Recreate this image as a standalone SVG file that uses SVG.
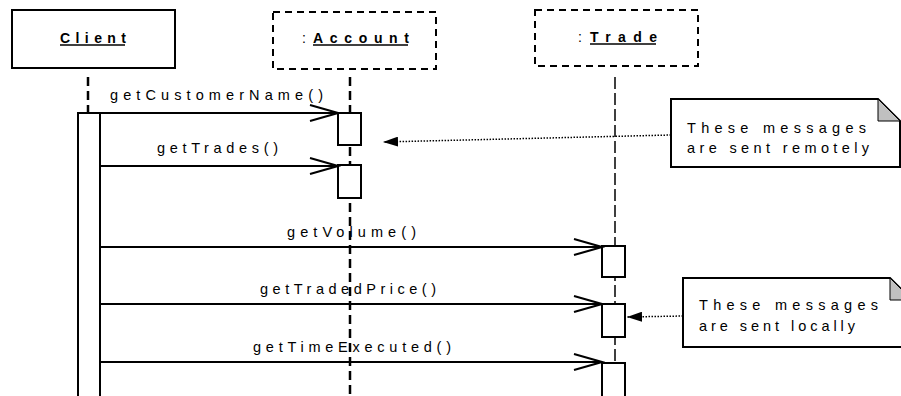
<svg xmlns="http://www.w3.org/2000/svg" width="901" height="396" viewBox="0 0 901 396">
  <style>
    .obj { fill: #fff; stroke: #000; stroke-width: 2; }
    .objdash { fill: #fff; stroke: #000; stroke-width: 2; stroke-dasharray: 7 5; }
    .head { font-family: "Liberation Sans", Arial, sans-serif; font-size: 14px; font-weight: bold; fill: #000; }
    .colon { font-family: "Liberation Sans", Arial, sans-serif; font-size: 14px; fill: #000; }
    .ul { stroke: #000; stroke-width: 1.5; }
    .life { fill: none; stroke: #000; stroke-width: 2.5; stroke-dasharray: 9 5; }
    .life-thin { fill: none; stroke: #000; stroke-width: 1.5; stroke-dasharray: 12 4; }
    .act { fill: #fff; stroke: #000; stroke-width: 2; }
    .msg { fill: none; stroke: #000; stroke-width: 2; marker-end: url(#open); }
    .lbl { font-family: "Liberation Sans", Arial, sans-serif; font-size: 14.5px; fill: #000; }
    .note { fill: #fff; stroke: #000; stroke-width: 2; }
    .fold { fill: #c0c0c0; stroke: #000; stroke-width: 1; }
    .ntxt { font-family: "Liberation Sans", Arial, sans-serif; font-size: 14.5px; fill: #000; }
    .dot { fill: none; stroke: #000; stroke-width: 1.5; stroke-dasharray: 1.5 1.5; marker-end: url(#tri); }
  </style>
  <defs>
    <marker id="open" markerUnits="userSpaceOnUse" markerWidth="32" markerHeight="20" refX="29" refY="10" orient="auto">
      <path d="M1,2 L29,10 L1,18" fill="none" stroke="#000" stroke-width="2"/>
    </marker>
    <marker id="tri" markerUnits="userSpaceOnUse" markerWidth="16" markerHeight="10" refX="15" refY="5" orient="auto">
      <path d="M0,0 L15,5 L0,10 Z" fill="#000"/>
    </marker>
  </defs>

  <!-- lifelines -->
  <g id="lifelines">
    <line class="life" x1="88" y1="77" x2="88" y2="113"/>
    <line class="life" x1="350" y1="77" x2="350" y2="396"/>
    <line class="life-thin" x1="615" y1="77" x2="615" y2="396"/>
  </g>

  <!-- object heads -->
  <g id="client">
    <rect class="obj" x="12" y="10" width="163" height="58"/>
    <text class="head" x="60" y="43" textLength="66" lengthAdjust="spacing">Client</text>
    <line class="ul" x1="60" y1="45" x2="125" y2="45"/>
    <rect class="act" x="78" y="113" width="22" height="290"/>
  </g>
  <g id="account">
    <rect class="objdash" x="273" y="12" width="163" height="57"/>
    <text class="colon" x="302" y="43">:</text>
    <text class="head" x="313" y="43" textLength="96" lengthAdjust="spacing">Account</text>
    <line class="ul" x1="313" y1="45" x2="408" y2="45"/>
    <rect class="act" x="338" y="113" width="23" height="32"/>
    <rect class="act" x="338" y="165" width="23" height="33"/>
  </g>
  <g id="trade">
    <rect class="objdash" x="535" y="10" width="163" height="56"/>
    <text class="colon" x="578" y="42">:</text>
    <text class="head" x="590" y="42" textLength="67" lengthAdjust="spacing">Trade</text>
    <line class="ul" x1="590" y1="44" x2="656" y2="44"/>
    <rect class="act" x="602" y="246" width="23" height="31"/>
    <rect class="act" x="602" y="304" width="23" height="33"/>
    <rect class="act" x="602" y="363" width="23" height="40"/>
  </g>

  <!-- notes -->
  <g id="note-remote">
    <path class="note" d="M671,99 L878,99 L900,121 L900,167 L671,167 Z"/>
    <path class="fold" d="M878,99 L878,121 L900,121 Z"/>
    <text class="ntxt" x="687" y="133" textLength="179" lengthAdjust="spacing">These messages</text>
    <text class="ntxt" x="687" y="153" textLength="182" lengthAdjust="spacing">are sent remotely</text>
  </g>
  <g id="note-local">
    <path class="note" d="M683,278 L890,278 L912,300 L912,347 L683,347 Z"/>
    <path class="fold" d="M890,278 L890,300 L912,300 Z"/>
    <text class="ntxt" x="699" y="310" textLength="179" lengthAdjust="spacing">These messages</text>
    <text class="ntxt" x="699" y="331" textLength="156" lengthAdjust="spacing">are sent locally</text>
  </g>

  <!-- messages and note links -->
  <g id="connectors">
    <line class="msg" x1="100" y1="113" x2="338" y2="113"/>
    <text class="lbl" x="110" y="100" textLength="213" lengthAdjust="spacing">getCustomerName()</text>
    <line class="msg" x1="100" y1="166" x2="338" y2="166"/>
    <text class="lbl" x="157" y="153" textLength="121" lengthAdjust="spacing">getTrades()</text>
    <line class="msg" x1="100" y1="247" x2="602" y2="247"/>
    <text class="lbl" x="287" y="237" textLength="129" lengthAdjust="spacing">getVolume()</text>
    <line class="msg" x1="100" y1="304" x2="602" y2="304"/>
    <text class="lbl" x="260" y="294" textLength="176" lengthAdjust="spacing">getTradedPrice()</text>
    <line class="msg" x1="100" y1="362" x2="602" y2="362"/>
    <text class="lbl" x="253" y="352" textLength="198" lengthAdjust="spacing">getTimeExecuted()</text>
    <line class="dot" x1="671" y1="135" x2="383" y2="142"/>
    <line class="dot" x1="683" y1="316" x2="627" y2="317"/>
  </g>
</svg>
